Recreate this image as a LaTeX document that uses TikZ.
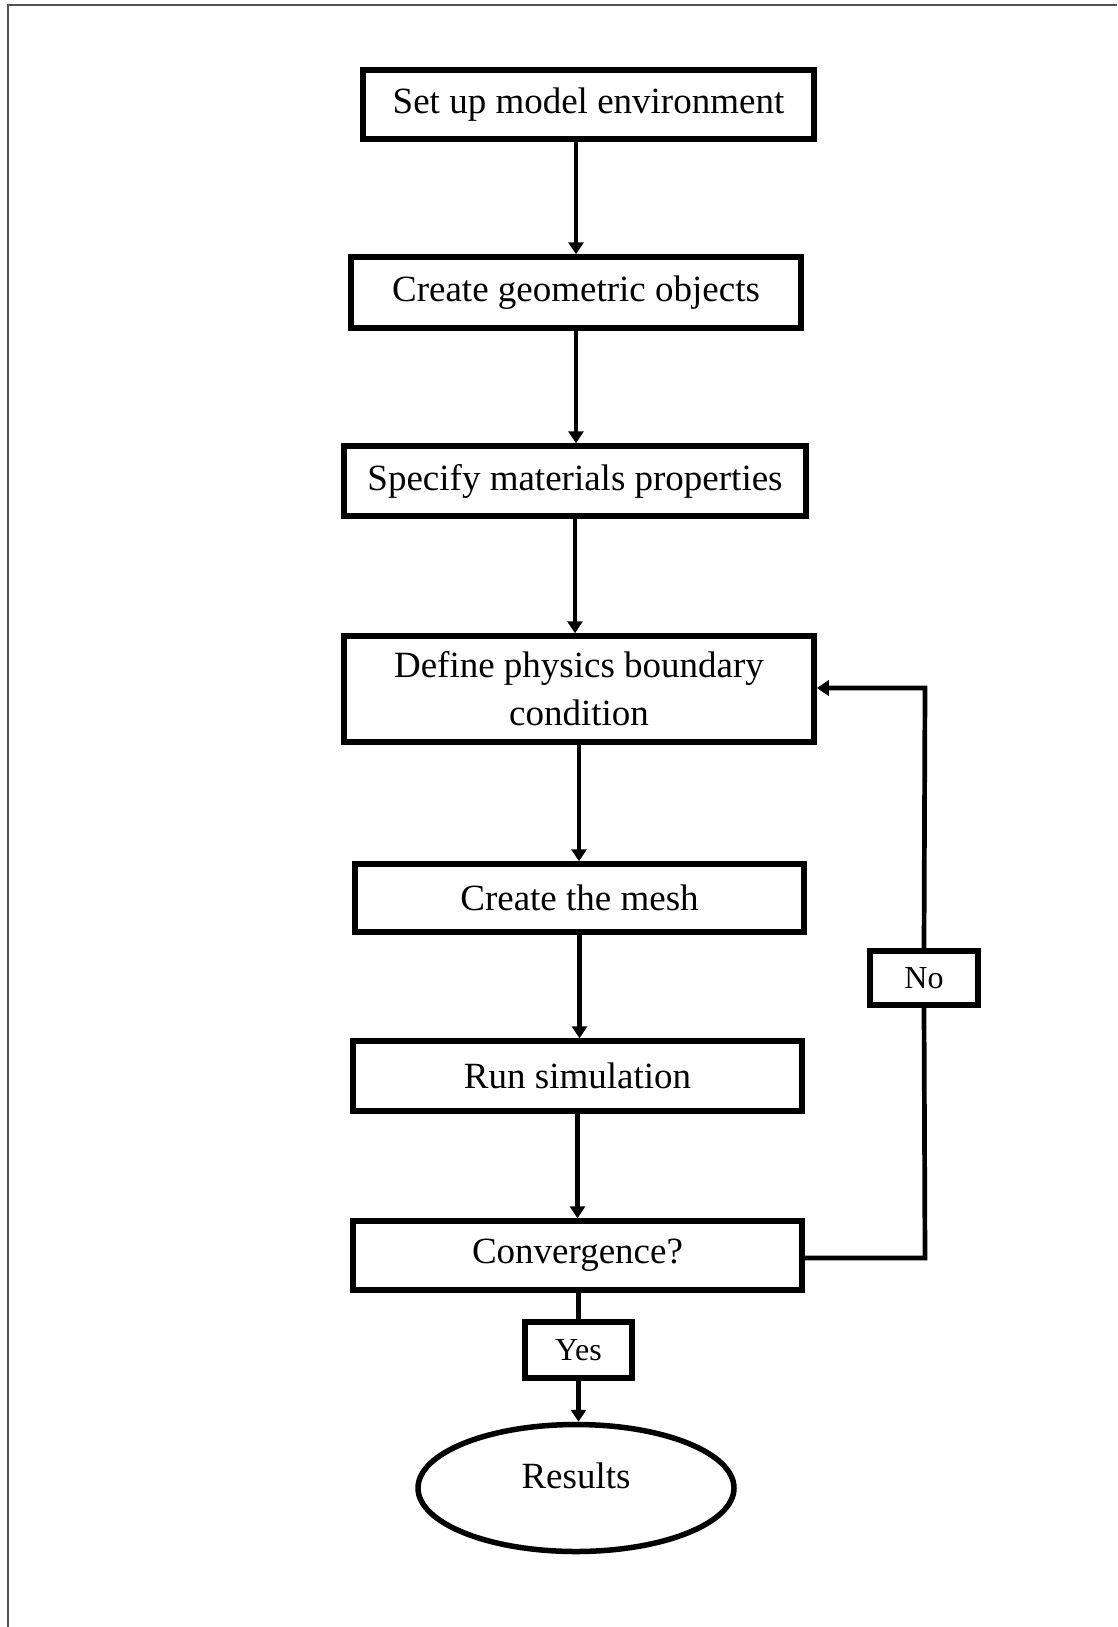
\documentclass[tikz,border=0pt]{standalone}
\usepackage{fontspec}
\setmainfont{Liberation Serif}
\usetikzlibrary{arrows.meta,shapes.geometric,shadows}
\begin{document}
\begin{tikzpicture}[x=1pt,y=-1pt,
  stepbox/.style={draw,fill=white,line width=5.5pt,rectangle,align=center,inner sep=0pt,
    font=\fontsize{37}{48}\selectfont,
    drop shadow={shadow xshift=2pt,shadow yshift=-2pt,opacity=0.25,fill=black}},
  labelbox/.style={draw,fill=white,line width=5.5pt,rectangle,align=center,inner sep=0pt,
    font=\fontsize{32}{38}\selectfont,
    drop shadow={shadow xshift=2pt,shadow yshift=-2pt,opacity=0.25,fill=black}},
  endbox/.style={draw,fill=white,line width=5.5pt,ellipse,inner sep=0pt},
  endtext/.style={font=\fontsize{37}{48}\selectfont,inner sep=0pt},
  conn/.style={line width=4.7pt},
  arr/.style={conn,-{Triangle[length=12pt,width=15pt]}},
  frame/.style={draw=black!68,line width=2pt}]
\useasboundingbox (0,0) rectangle (1117,1627);
\draw[frame] (7.5,1627) -- (7.5,5.5) -- (1117,5.5);
\node[stepbox,minimum width=451pt,minimum height=69pt] (b1) at (588.5,104.5) {Set up model environment};
\node[stepbox,minimum width=450pt,minimum height=71pt] (b2) at (576,292.5) {Create geometric objects};
\node[stepbox,minimum width=462pt,minimum height=70pt] (b3) at (575,481) {Specify materials properties};
\node[stepbox,minimum width=470pt,minimum height=106pt] (b4) at (579,689) {Define physics boundary\\condition};
\node[stepbox,minimum width=449pt,minimum height=68pt] (b5) at (579.5,898) {Create the mesh};
\node[stepbox,minimum width=449pt,minimum height=70pt] (b6) at (577.5,1076) {Run simulation};
\node[stepbox,minimum width=449pt,minimum height=69pt] (b7) at (577.5,1255.5) {Convergence?};
\node[labelbox,minimum width=107pt,minimum height=56pt] (yes) at (578.5,1350) {Yes};
\node[labelbox,minimum width=108pt,minimum height=54pt] (no) at (924,978) {No};
\node[endbox,minimum width=316pt,minimum height=127pt] (res) at (576,1488) {};
\node[endtext] (restext) at ([yshift=12pt]res.center) {Results};
\coordinate (r1) at (925,1258);
\coordinate (r2) at (925,688);
\draw[arr] (b1.south -| b2.north) -- (b2.north);
\draw[arr] (b2.south) -- (b2.south |- b3.north);
\draw[arr] (b3.south) -- (b3.south |- b4.north);
\draw[arr] (b4.south) -- (b4.south |- b5.north);
\draw[arr] (b5.south) -- (b5.south |- b6.north);
\draw[arr] (b6.south) -- (b6.south |- b7.north);
\draw[conn] (b7.south -| yes.north) -- (yes.north);
\draw[arr] (yes.south) -- (yes.south |- res.north);
\draw[conn] (b7.east |- r1) -- (r1) -- (no.south);
\draw[arr] (no.north) -- (r2) -- (r2 -| b4.east);
\end{tikzpicture}
\end{document}
